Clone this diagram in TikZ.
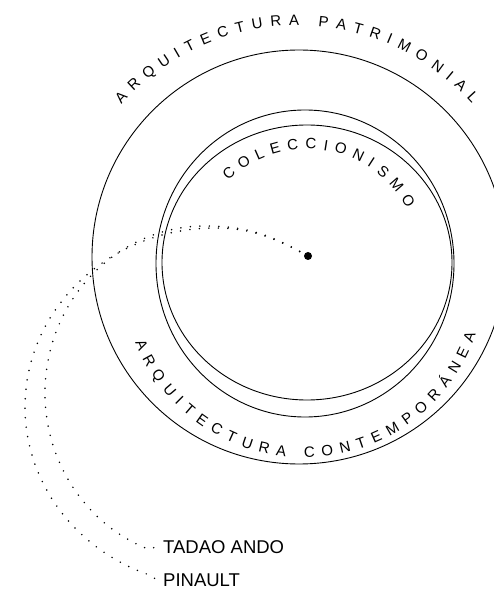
\documentclass[tikz,border=0pt]{standalone}
\usepackage{fontspec}
\setmainfont{Liberation Sans}
\newcommand\arcfont{\fontsize{15}{18}\selectfont}
\newdimen\arclw
% #1 centre, #2 baseline radius, #3 start angle, #4 direction (1 ccw, -1 cw), #5 tracking, #6 letters
\newcommand\arcletters[6]{%
  \xdef\arccur{#3}%
  \foreach \ch in {#6}{%
    \pgfinterruptpicture
      \setbox0=\hbox{\arcfont\ch}%
      \global\arclw=\wd0
    \endpgfinterruptpicture
    \pgfmathsetmacro\arcwd{\the\arclw}%
    \pgfmathsetmacro\arcmid{\arccur + #4*(\arcwd/2)/#2*57.29578}%
    \pgfmathsetmacro\arcrot{\arcmid + #4*90}%
    \node[arcletter, rotate=\arcrot] at ([shift={(\arcmid:#2)}]#1) {\ch};
    \pgfmathsetmacro\arcnext{\arccur + #4*(\arcwd + #5)/#2*57.29578}%
    \xdef\arccur{\arcnext}%
  }%
}
\begin{document}
\begin{tikzpicture}[x=1pt,y=1pt,
  ring/.style={draw=black, line width=0.9pt},
  dotpath/.style={line width=1.7pt, line cap=round, dash pattern=on 0pt off 9.5pt, black},
  namelabel/.style={anchor=west, inner sep=0pt, font=\fontsize{18.5}{22}\selectfont},
  arcletter/.style={anchor=base, inner sep=0pt, font=\arcfont}
]
\clip (0,0) rectangle (494,590);
% centres
\coordinate (oc) at (299,333);
\coordinate (ac) at (305,326.5);
\coordinate (bc) at (307,327.5);
\coordinate (tc) at (297,330.6);
\coordinate (lc) at (304,314);
% rings
\draw[ring] (oc) circle[radius=207];
\draw[ring] (ac) ellipse[x radius=149, y radius=153.5];
\draw[ring] (bc) ellipse[x radius=145, y radius=137.5];
% curved texts
\arcletters{tc}{234}{138.6}{-1}{7.48}{A,R,Q,U,I,T,E,C,T,U,R,A,~,P,A,T,R,I,M,O,N,I,A,L}
\arcletters{bc}{113.6}{134}{-1}{6.8}{C,O,L,E,C,C,I,O,N,I,S,M,O}
\arcletters{lc}{181.4}{201.5}{1}{7.27}{A,R,Q,U,I,T,E,C,T,U,R,A,~,C,O,N,T,E,M,P,O,R,Á,N,E,A}
% centre dot
\node[circle, fill=black, inner sep=0pt, minimum size=8pt] (dot) at (308,334) {};
% labels
\node[namelabel] (tadao) at (163,43) {TADAO ANDO};
\node[namelabel] (pinault) at (163,10) {PINAULT};
% dotted connectors
\coordinate (t1) at (205,364);
\coordinate (t2) at (215,362);
\draw[dotpath] (dot.center) to[out=150,in=0] (t1)
  arc[start angle=90, end angle=249, x radius=160, y radius=167] -- ([xshift=-6pt]tadao.west);
\draw[dotpath] (dot.center) to[out=152,in=0] (t2)
  arc[start angle=90, end angle=250, x radius=190, y radius=179] -- ([xshift=-6pt]pinault.west);
\end{tikzpicture}
\end{document}
